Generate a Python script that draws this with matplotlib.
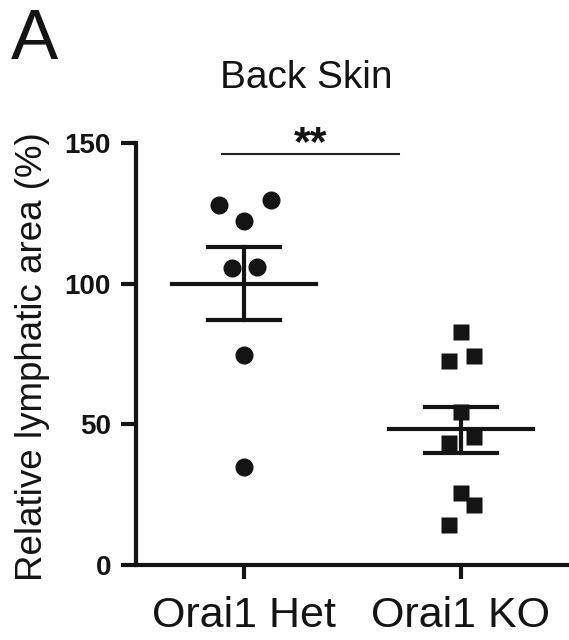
## Back skin lymphatic area, Orai1 Het vs KO (dot plot with mean +/- SEM)

import numpy as np
import matplotlib.pyplot as plt

plt.rcParams['font.family'] = ['Liberation Sans', 'DejaVu Sans']

groups = ['Orai1 Het', 'Orai1 KO']
het = [128, 129.8, 122.3, 105.6, 106, 74.7, 34.8]
ko = [82.8, 72.5, 74.3, 54.4, 43.4, 45.5, 25.6, 21.3, 14.2]
means = [100, 48.3]
sem_hi = [113, 56.2]
sem_lo = [87, 39.8]
yticks = [0, 50, 100, 150]

# scatter spread inside each column (Prism style)
het_dx = [-0.115, 0.125, 0, -0.055, 0.06, 0, 0]
ko_dx = [0, -0.055, 0.06, 0, -0.055, 0.06, 0, 0.06, -0.055]

fig = plt.figure(figsize=(5.69, 6.40), dpi=100)
ax = fig.add_axes([136/569, 75/640, 433/569, 422/640])

ax.plot(1 + np.array(het_dx), het, 'o', color='#141414', ms=13, mec='none', zorder=3)
ax.plot(2 + np.array(ko_dx), ko, 's', color='#141414', ms=12, mec='none', zorder=3)

for i in range(2):
    x = i + 1
    ax.plot([x-0.333, x+0.333], [means[i], means[i]], color='#141414', lw=3, zorder=4)
    ax.plot([x-0.167, x+0.167], [sem_hi[i], sem_hi[i]], color='#141414', lw=3, zorder=4)
    ax.plot([x-0.167, x+0.167], [sem_lo[i], sem_lo[i]], color='#141414', lw=3, zorder=4)
    ax.plot([x, x], [sem_lo[i], sem_hi[i]], color='#141414', lw=3, zorder=4)

# significance bar
ax.plot([0.898, 1.713], [146.1, 146.1], color='#222222', lw=1.5, clip_on=False)
ax.text(1.306, 142.5, '**', ha='center', va='bottom', fontsize=31, fontweight='bold',
        color='#141414', clip_on=False)

ax.set_xlim(0.5, 2.5)
ax.set_ylim(0, 150)
ax.set_xticks([1, 2])
ax.set_xticklabels(groups, fontsize=31)
ax.set_yticks(yticks)
ax.set_yticklabels([str(t) for t in yticks], fontsize=20, fontweight='bold')
ax.tick_params(axis='y', length=11, width=3, pad=7, colors='#141414')
ax.tick_params(axis='x', length=10, width=3, pad=12, colors='#141414')
for s in ['top', 'right']:
    ax.spines[s].set_visible(False)
for s in ['left', 'bottom']:
    ax.spines[s].set_linewidth(3)
    ax.spines[s].set_color('#141414')

fig.text(33/569, 1 - 357/640, 'Relative lymphatic area (%)', rotation=90,
         ha='center', va='center', fontsize=26.5, color='#141414')
fig.text(306/569, 1 - 78/640, 'Back Skin', ha='center', va='center', fontsize=28,
         color='#141414')
fig.text(11/569, 1 - 41/640, 'A', ha='left', va='center', fontsize=51, color='#141414')

fig.savefig('out.png', dpi=100)
